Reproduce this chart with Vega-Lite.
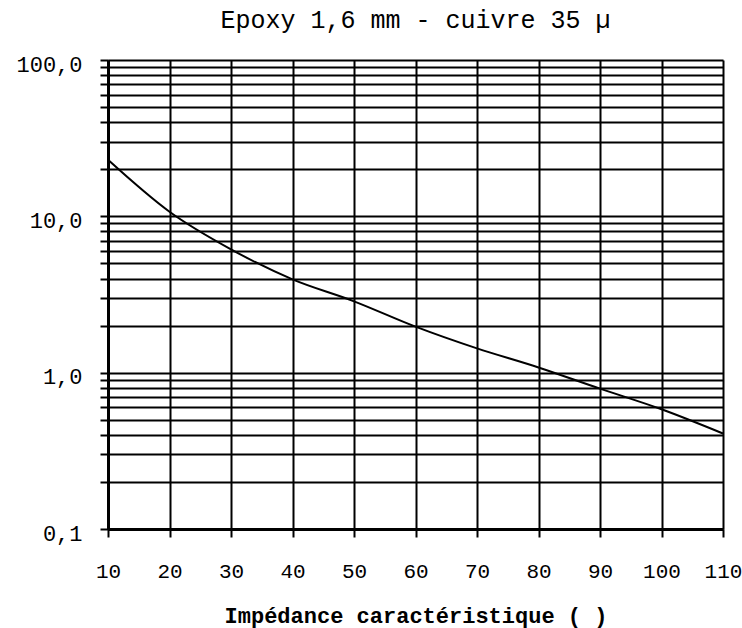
{
  "$schema": "https://vega.github.io/schema/vega-lite/v6.json",
  "width": 615,
  "height": 469,
  "autosize": {"type": "none"},
  "padding": {"left": 108, "top": 60, "right": 19, "bottom": 99},
  "background": "white",
  "config": {
    "view": {"stroke": null},
    "font": "Liberation Mono"
  },
  "title": {
    "text": "Epoxy 1,6 mm - cuivre 35 µ",
    "font": "Liberation Mono",
    "fontSize": 25,
    "fontWeight": "normal",
    "color": "black",
    "anchor": "middle",
    "frame": "group",
    "offset": 20
  },
  "data": {
    "values": [
      {"z": 10, "a": 23.0},
      {"z": 20, "a": 10.7},
      {"z": 30, "a": 6.15},
      {"z": 40, "a": 3.95},
      {"z": 50, "a": 2.86},
      {"z": 60, "a": 1.97},
      {"z": 70, "a": 1.43},
      {"z": 80, "a": 1.08},
      {"z": 90, "a": 0.79},
      {"z": 100, "a": 0.583},
      {"z": 110, "a": 0.408}
    ]
  },
  "mark": {"type": "line", "color": "black", "strokeWidth": 2, "interpolate": "monotone"},
  "encoding": {
    "x": {
      "field": "z",
      "type": "quantitative",
      "scale": {"domain": [10, 110], "nice": false, "zero": false},
      "axis": {
        "values": [10, 20, 30, 40, 50, 60, 70, 80, 90, 100, 110],
        "title": "Impédance caractéristique ( )",
        "titleFont": "Liberation Mono",
        "titleFontSize": 22,
        "titleFontWeight": "bold",
        "titleColor": "black",
        "titlePadding": 24,
        "labelFont": "Liberation Mono",
        "labelFontSize": 21,
        "labelColor": "black",
        "labelPadding": 23,
        "labelFlush": false,
        "tickSize": 8,
        "tickWidth": 2,
        "tickColor": "black",
        "grid": true,
        "gridColor": "black",
        "gridWidth": 2,
        "gridOpacity": 1,
        "domainColor": "black",
        "domainWidth": 3
      }
    },
    "y": {
      "field": "a",
      "type": "quantitative",
      "scale": {"type": "log", "domain": [0.1, 100], "nice": false},
      "axis": {
        "values": [0.1, 0.2, 0.3, 0.4, 0.5, 0.6, 0.7, 0.8, 0.9, 1, 2, 3, 4, 5, 6, 7, 8, 9, 10, 20, 30, 40, 50, 60, 70, 80, 90, 100],
        "labelExpr": "datum.value == 0.1 ? '0,1' : datum.value == 1 ? '1,0' : datum.value == 10 ? '10,0' : datum.value == 100 ? '100,0' : ''",
        "title": null,
        "labelFont": "Liberation Mono",
        "labelFontSize": 22,
        "labelColor": "black",
        "labelPadding": 18,
        "labelOffset": 4,
        "labelFlush": false,
        "labelOverlap": false,
        "tickSize": 8,
        "tickWidth": 2,
        "tickColor": "black",
        "grid": true,
        "gridColor": "black",
        "gridWidth": 2,
        "gridOpacity": 1,
        "domainColor": "black",
        "domainWidth": 3
      }
    }
  }
}
